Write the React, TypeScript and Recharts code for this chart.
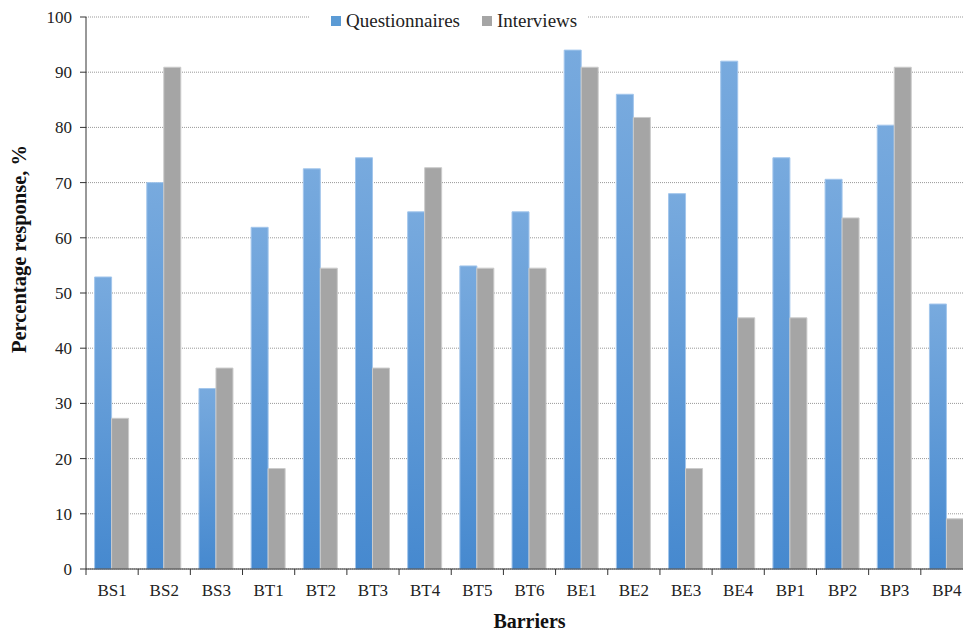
import { BarChart, Bar, XAxis, YAxis, CartesianGrid, Legend } from "recharts";

// values (percent)
const barriers = [
  "BS1", "BS2", "BS3",
  "BT1", "BT2", "BT3", "BT4", "BT5", "BT6",
  "BE1", "BE2", "BE3", "BE4",
  "BP1", "BP2", "BP3", "BP4",
];
const questionnaires = [
  52.9, 70.0, 32.7,
  61.9, 72.5, 74.5, 64.7, 54.9, 64.7,
  94.0, 86.0, 68.0, 92.0,
  74.5, 70.6, 80.4, 48.0,
];
const interviews = [
  27.3, 90.9, 36.4,
  18.2, 54.5, 36.4, 72.7, 54.5, 54.5,
  90.9, 81.8, 18.2, 45.5,
  45.5, 63.6, 90.9, 9.1,
];
const yTicks = [0, 10, 20, 30, 40, 50, 60, 70, 80, 90, 100];

const data = barriers.map((barrier, i) => ({
  barrier,
  questionnaires: questionnaires[i],
  interviews: interviews[i],
}));

const font = '"Liberation Serif", "Times New Roman", Times, serif';

// the original picture is cut off on the right, so the chart is a bit wider than the frame
const CHART_W = 973;
const CHART_H = 633;
const MARGIN = { top: 17, right: 0, bottom: 30, left: 0 };
const Y_AXIS_W = 86;
const X_AXIS_H = 34;
const PLOT_BOTTOM = CHART_H - MARGIN.bottom - X_AXIS_H;
const BAND = (CHART_W - Y_AXIS_W - MARGIN.left - MARGIN.right) / barriers.length;

const seriesOrder = ["questionnaires", "interviews"];
const legendColors: Record<string, string> = {
  questionnaires: "#5b9bd5",
  interviews: "#a5a5a5",
};

// category labels with the tick marks sitting on the category boundaries
const BarrierTick = ({ x, payload }: any) => (
  <g>
    <line
      x1={x - BAND / 2}
      x2={x - BAND / 2}
      y1={PLOT_BOTTOM}
      y2={PLOT_BOTTOM + 6}
      stroke="#333"
    />
    <text
      x={x}
      y={PLOT_BOTTOM + 27}
      textAnchor="middle"
      fontFamily={font}
      fontSize={17}
      fill="#222"
    >
      {payload.value}
    </text>
  </g>
);

const LegendContent = ({ payload }: any) => {
  const items = [...(payload ?? [])].sort(
    (a: any, b: any) => seriesOrder.indexOf(a.dataKey) - seriesOrder.indexOf(b.dataKey)
  );
  return (
    <div
      style={{
        display: "flex",
        alignItems: "center",
        height: 27,
        paddingLeft: 21,
        background: "#fff",
        fontFamily: font,
        fontSize: 19,
        color: "#222",
      }}
    >
      {items.map((entry: any, i: number) => (
        <div
          key={entry.dataKey}
          style={{ display: "flex", alignItems: "center", marginLeft: i === 0 ? 0 : 22 }}
        >
          <span
            style={{
              display: "inline-block",
              width: 10,
              height: 10,
              marginRight: 5,
              background: legendColors[entry.dataKey],
            }}
          />
          <span>{entry.value}</span>
        </div>
      ))}
    </div>
  );
};

export default function App() {
  return (
    <div
      style={{
        position: "absolute",
        left: 0,
        top: 0,
        width: 963,
        height: CHART_H,
        overflow: "hidden",
        background: "#fff",
      }}
    >
      <BarChart
        width={CHART_W}
        height={CHART_H}
        data={data}
        margin={MARGIN}
        barCategoryGap="16.5%"
        barGap={0}
      >
        <defs>
          <linearGradient id="qGrad" x1="0" y1="0" x2="0" y2="1">
            <stop offset="0%" stopColor="#78aade" />
            <stop offset="100%" stopColor="#4689cf" />
          </linearGradient>
        </defs>
        <CartesianGrid
          vertical={false}
          stroke="#999"
          strokeDasharray="1 1"
        />
        <XAxis
          dataKey="barrier"
          height={X_AXIS_H}
          interval={0}
          tickLine={false}
          axisLine={{ stroke: "#333" }}
          tick={<BarrierTick />}
          label={() => (
            <text
              x={Y_AXIS_W + (CHART_W - Y_AXIS_W) / 2}
              y={628}
              textAnchor="middle"
              fontFamily={font}
              fontSize={20}
              fontWeight="bold"
              fill="#111"
            >
              Barriers
            </text>
          )}
        />
        <YAxis
          width={Y_AXIS_W}
          domain={[0, 100]}
          ticks={yTicks}
          interval={0}
          tickSize={6}
          tickMargin={8}
          axisLine={{ stroke: "#333" }}
          tickLine={{ stroke: "#333" }}
          tick={{ fontFamily: font, fontSize: 17, fill: "#222" }}
          label={() => (
            <text
              x={26}
              y={249}
              transform="rotate(-90 26 249)"
              textAnchor="middle"
              fontFamily={font}
              fontSize={20.5}
              fontWeight="bold"
              fill="#111"
            >
              Percentage response, %
            </text>
          )}
        />
        <Legend
          layout="horizontal"
          verticalAlign="middle"
          align="center"
          content={<LegendContent />}
          wrapperStyle={{ top: 7, left: 310, width: 278, height: 27 }}
        />
        <Bar
          dataKey="questionnaires"
          name="Questionnaires"
          fill="url(#qGrad)"
          stroke="#a3c6ec"
          strokeWidth={1}
          isAnimationActive={false}
        />
        <Bar
          dataKey="interviews"
          name="Interviews"
          fill="#a5a5a5"
          stroke="#cbcbcb"
          strokeWidth={1}
          isAnimationActive={false}
        />
      </BarChart>
    </div>
  );
}
